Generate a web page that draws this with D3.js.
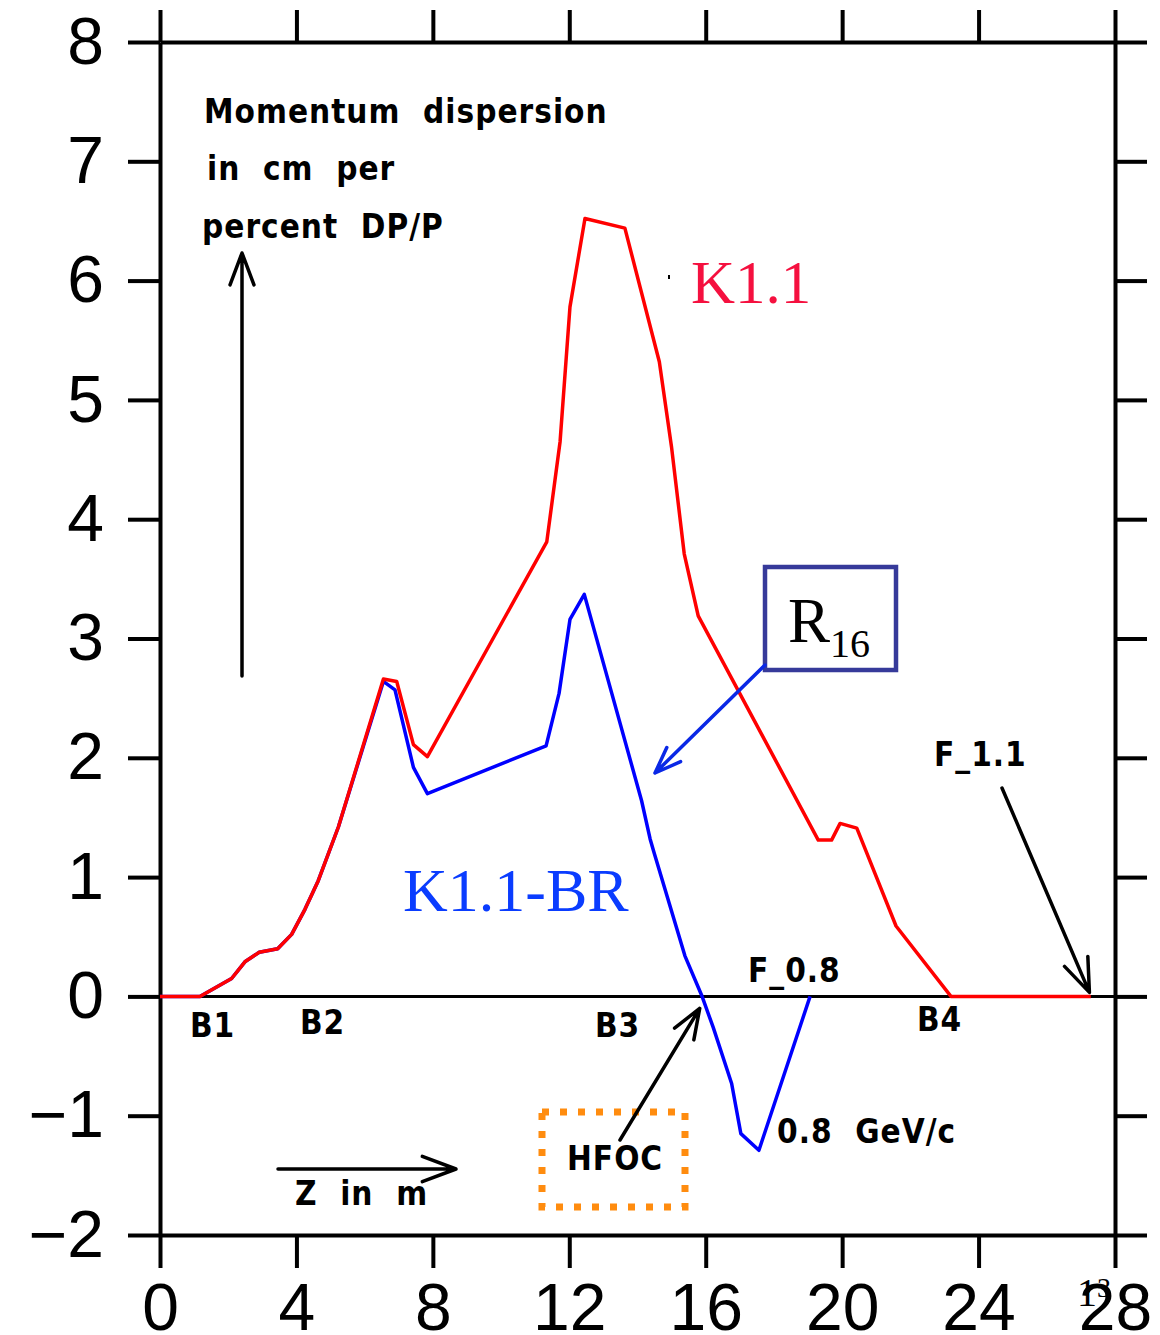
<!DOCTYPE html>
<html>
<head>
<meta charset="utf-8">
<script src="https://cdn.jsdelivr.net/npm/d3@7"></script>
<style>
body { margin: 0; background: #fff; }
svg { display: block; }
.lbl { font-family: "DejaVu Sans Condensed", "DejaVu Sans", sans-serif; font-stretch: condensed; font-weight: bold; font-size: 33px; letter-spacing: 1px; white-space: pre; }
</style>
</head>
<body>
<script>
// z position along the line, in m
var redZ = [0, 1.17, 2.1, 2.49, 2.91, 3.45, 3.86, 4.25, 4.64, 5.23, 6.55, 6.94, 7.43, 7.84,
    11.34, 11.73, 12.02, 12.46, 13.63, 14.64, 15.0, 15.37, 15.78, 19.30, 19.69, 19.94, 20.43, 21.58, 23.19, 27.29];
// dispersion K1.1, cm per percent dp/p
var redD = [0, 0, 0.15, 0.29, 0.37, 0.40, 0.52, 0.73, 0.97, 1.42, 2.66, 2.64, 2.11, 2.01,
    3.81, 4.65, 5.78, 6.52, 6.44, 5.32, 4.60, 3.71, 3.19, 1.31, 1.31, 1.45, 1.41, 0.59, 0, 0];

// K1.1-BR
var blueZ = [0, 1.17, 2.1, 2.49, 2.91, 3.45, 3.86, 4.25, 4.64, 5.23, 6.55, 6.89, 7.43, 7.84,
    11.32, 11.70, 12.02, 12.44, 14.12, 14.37, 14.48, 15.39, 15.88, 16.22, 16.76, 17.03, 17.56, 19.06];
var blueD = [0, 0, 0.15, 0.29, 0.37, 0.40, 0.52, 0.73, 0.97, 1.42, 2.64, 2.57, 1.92, 1.70,
    2.10, 2.54, 3.16, 3.37, 1.64, 1.32, 1.21, 0.34, 0.01, -0.26, -0.73, -1.15, -1.29, 0];

var xTicks = [0, 4, 8, 12, 16, 20, 24, 28];
var yTicks = [-2, -1, 0, 1, 2, 3, 4, 5, 6, 7, 8];

var W = 1160, H = 1335;
var svg = d3.select("body").append("svg").attr("width", W).attr("height", H);
svg.append("rect").attr("width", W).attr("height", H).attr("fill", "#fff");

var x = d3.scaleLinear().domain([0, 28]).range([160, 1115]);
var y = d3.scaleLinear().domain([-2, 8]).range([1235, 42]);

//坐标轴
function styleAxis(g) {
    g.attr("color", "#000");
    g.selectAll("path, line").attr("stroke-width", 4);
    g.selectAll("text").attr("font-family", "'Liberation Sans', sans-serif").attr("font-size", 66).attr("fill", "#000");
}
svg.append("g").attr("transform", "translate(0,1235)")
    .call(d3.axisBottom(x).tickValues(xTicks).tickSizeInner(33).tickSizeOuter(0).tickPadding(15).tickFormat(d3.format("d")))
    .call(styleAxis);
svg.append("g").attr("transform", "translate(0,42)")
    .call(d3.axisTop(x).tickValues(xTicks).tickSizeInner(32).tickSizeOuter(0).tickFormat(""))
    .call(styleAxis);
svg.append("g").attr("transform", "translate(160,0)")
    .call(d3.axisLeft(y).tickValues(yTicks).tickSizeInner(32).tickSizeOuter(0).tickPadding(24).tickFormat(d3.format("d")))
    .call(styleAxis);
svg.append("g").attr("transform", "translate(1115,0)")
    .call(d3.axisRight(y).tickValues(yTicks).tickSizeInner(32).tickSizeOuter(0).tickFormat(""))
    .call(styleAxis);

// zero line
svg.append("line").attr("x1", x(0)).attr("x2", x(28)).attr("y1", y(0)).attr("y2", y(0))
    .attr("stroke", "#000").attr("stroke-width", 3);

var line = d3.line().x(function(d) { return x(d[0]); }).y(function(d) { return y(d[1]); });
svg.append("path").datum(d3.zip(blueZ, blueD)).attr("d", line)
    .attr("fill", "none").attr("stroke", "#0000ff").attr("stroke-width", 3.5).attr("stroke-linejoin", "round");
svg.append("path").datum(d3.zip(redZ, redD)).attr("d", line)
    .attr("fill", "none").attr("stroke", "#ff0000").attr("stroke-width", 3.5).attr("stroke-linejoin", "round");

// arrow: line plus open head
function arrow(x1, y1, x2, y2, color, w, head) {
    var a = Math.atan2(y2 - y1, x2 - x1), s = 0.36;
    var p = "M" + x1 + "," + y1 + "L" + x2 + "," + y2 +
        "M" + (x2 - head * Math.cos(a - s)) + "," + (y2 - head * Math.sin(a - s)) + "L" + x2 + "," + y2 +
        "L" + (x2 - head * Math.cos(a + s)) + "," + (y2 - head * Math.sin(a + s));
    svg.append("path").attr("d", p).attr("fill", "none").attr("stroke", color)
        .attr("stroke-width", w).attr("stroke-linecap", "round").attr("stroke-linejoin", "round");
}

function label(t, px, py) {
    svg.append("text").attr("class", "lbl").attr("x", px).attr("y", py).text(t);
}

label("Momentum  dispersion", 204, 123);
label("in  cm  per", 207, 180);
label("percent  DP/P", 202, 238);
arrow(242, 676, 242, 253, "#000", 3.5, 34);

label("B1", 190, 1037);
label("B2", 300, 1034);
label("B3", 595, 1037);
label("B4", 917, 1031);
label("F_0.8", 748, 982);
label("F_1.1", 934, 766);
label("0.8  GeV/c", 777, 1143);
label("Z  in  m", 295, 1205);
arrow(278, 1169, 456, 1169, "#000", 3.5, 36);

arrow(1002, 788, x(27.25), y(0) - 4, "#000", 3.5, 36);

// HFOC box
svg.append("rect").attr("x", 542).attr("y", 1112).attr("width", 143).attr("height", 95)
    .attr("fill", "none").attr("stroke", "#ff8c0f").attr("stroke-width", 7).attr("stroke-dasharray", "7 11");
label("HFOC", 567, 1170);
arrow(620, 1140, x(16) - 6, y(0) + 12, "#000", 3.5, 32);

// R16 box
svg.append("rect").attr("x", 765).attr("y", 567).attr("width", 131).attr("height", 103)
    .attr("fill", "#fff").attr("stroke", "#363a9a").attr("stroke-width", 4.5);
var r = svg.append("text").attr("x", 788).attr("y", 642)
    .attr("font-family", "'Liberation Serif', serif").attr("font-size", 63).attr("fill", "#000");
r.append("tspan").text("R");
r.append("tspan").attr("font-size", 40).attr("dy", 15).text("16");
arrow(765, 665, 655, 773, "#0a28e6", 3.5, 28);

// curve names
svg.append("text").attr("x", 691).attr("y", 303).attr("font-family", "'Liberation Serif', serif")
    .attr("font-size", 61).attr("fill", "#f5103f").text("K1.1");
svg.append("path").attr("d", "M669,275L669,279").attr("stroke", "#000").attr("stroke-width", 2);
svg.append("text").attr("x", 403).attr("y", 911).attr("font-family", "'Liberation Serif', serif")
    .attr("font-size", 62).attr("fill", "#0a3cff").text("K1.1-BR");

// page number
var pg = svg.append("text").attr("x", 1077).attr("y", 1306)
    .attr("font-family", "'Liberation Serif', serif").attr("font-size", 40).attr("fill", "#000");
pg.append("tspan").text("1");
pg.append("tspan").attr("font-size", 28).attr("dy", -9).text("3");
</script>
</body>
</html>
